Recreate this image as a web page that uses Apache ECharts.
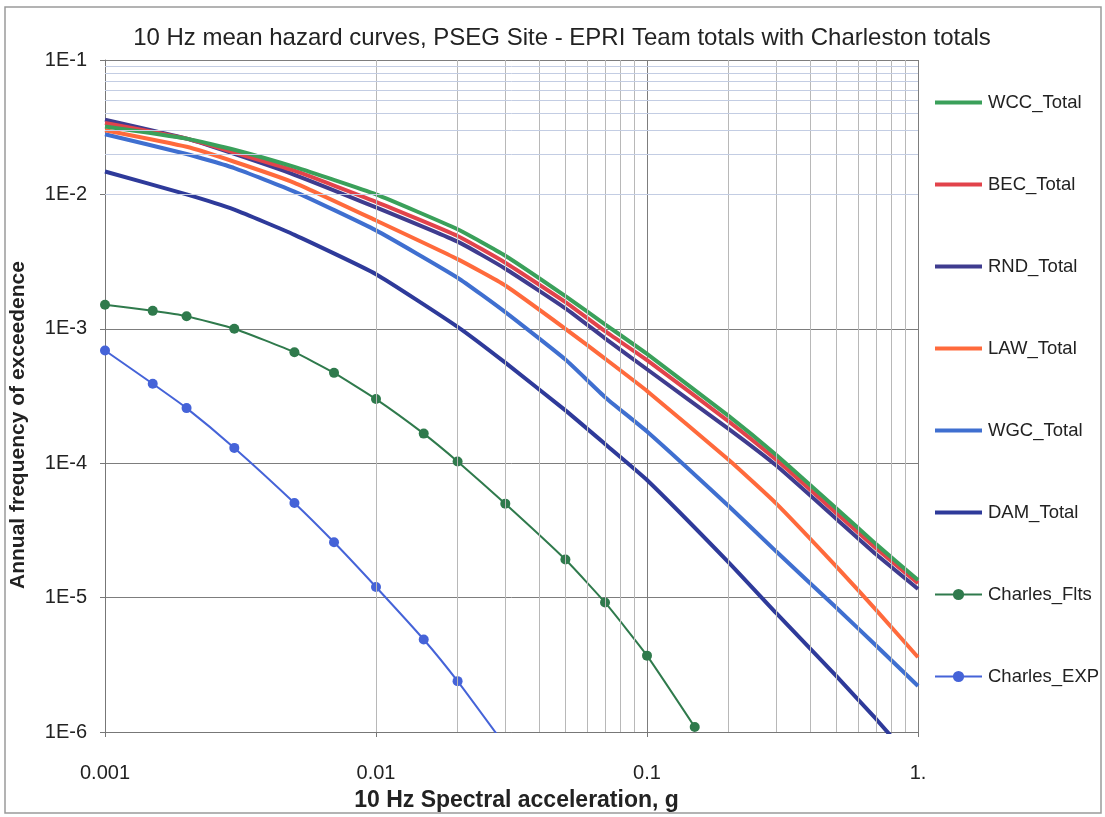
<!DOCTYPE html>
<html>
<head>
<meta charset="utf-8">
<script src="https://cdn.jsdelivr.net/npm/echarts@6/dist/echarts.min.js"></script>
<style>
  html, body { margin: 0; padding: 0; background: #fff; }
  #chart { width: 1105px; height: 817px; }
</style>
</head>
<body>
<div id="chart"></div>
<script>
// spectral acceleration (g) for the total curves
const accel = [0.001, 0.002, 0.003, 0.005, 0.01, 0.02, 0.03, 0.05, 0.07, 0.1, 0.2, 0.3, 0.5, 0.7, 1]
const wccTotal = [3.2e-2, 2.6e-2, 2.15e-2, 1.6e-2, 1.0e-2, 5.5e-3, 3.5e-3, 1.75e-3, 1.08e-3, 6.5e-4, 2.25e-4, 1.15e-4, 4.6e-5, 2.5e-5, 1.35e-5]
const becTotal = [3.4e-2, 2.6e-2, 2.05e-2, 1.5e-2, 8.8e-3, 4.9e-3, 3.1e-3, 1.58e-3, 9.6e-4, 5.85e-4, 2.05e-4, 1.06e-4, 4.25e-5, 2.33e-5, 1.28e-5]
const rndTotal = [3.6e-2, 2.6e-2, 2.0e-2, 1.4e-2, 8.0e-3, 4.45e-3, 2.8e-3, 1.42e-3, 8.5e-4, 5.0e-4, 1.8e-4, 9.6e-5, 3.85e-5, 2.1e-5, 1.16e-5]
const lawTotal = [3.0e-2, 2.26e-2, 1.75e-2, 1.22e-2, 6.4e-3, 3.3e-3, 2.1e-3, 1.0e-3, 6.0e-4, 3.45e-4, 1.06e-4, 5.0e-5, 1.7e-5, 8.1e-6, 3.6e-6]
const wgcTotal = [2.8e-2, 2.0e-2, 1.57e-2, 1.05e-2, 5.4e-3, 2.4e-3, 1.33e-3, 5.9e-4, 3.1e-4, 1.72e-4, 4.8e-5, 2.2e-5, 8.4e-6, 4.4e-6, 2.2e-6]
const damTotal = [1.48e-2, 1.0e-2, 7.7e-3, 5.0e-3, 2.55e-3, 1.035e-3, 5.6e-4, 2.47e-4, 1.39e-4, 7.5e-5, 1.83e-5, 7.65e-6, 2.6e-6, 1.25e-6, 5.5e-7]

// Charleston curves (with markers)
const fltsAccel = [0.001, 0.0015, 0.002, 0.003, 0.005, 0.007, 0.01, 0.015, 0.02, 0.03, 0.05, 0.07, 0.1, 0.15]
const charlesFlts = [1.51e-3, 1.36e-3, 1.24e-3, 1.0e-3, 6.7e-4, 4.7e-4, 3.0e-4, 1.66e-4, 1.03e-4, 5.0e-5, 1.92e-5, 9.2e-6, 3.7e-6, 1.09e-6]
const expAccel = [0.001, 0.0015, 0.002, 0.003, 0.005, 0.007, 0.01, 0.015, 0.02, 0.03]
const charlesExp = [6.9e-4, 3.9e-4, 2.57e-4, 1.3e-4, 5.06e-5, 2.58e-5, 1.2e-5, 4.88e-6, 2.39e-6, 7.9e-7]

const totalNames = ['WCC_Total', 'BEC_Total', 'RND_Total', 'LAW_Total', 'WGC_Total', 'DAM_Total']
const charlesNames = ['Charles_Flts', 'Charles_EXP']
const xTickLabels = { '-3': '0.001', '-2': '0.01', '-1': '0.1', '0': '1.' }
const yTickLabels = { '-6': '1E-6', '-5': '1E-5', '-4': '1E-4', '-3': '1E-3', '-2': '1E-2', '-1': '1E-1' }

// minor log grid: 2..9 inside each decade
const xDecades = [0.001, 0.01, 0.1]
const yDecades = [1e-6, 1e-5, 1e-4, 1e-3, 1e-2]
const minorSteps = [2, 3, 4, 5, 6, 7, 8, 9]

const pairs = (xs, ys) => xs.map((x, i) => [x, ys[i]])

const chart = echarts.init(document.getElementById('chart'))

const font = 'Liberation Sans, Arial, sans-serif'

const totalLine = (name, color, data) => ({
  name,
  type: 'line',
  data,
  symbol: 'none',
  smooth: 0.15,
  clip: true,
  z: 3,
  lineStyle: { color, width: 4 },
  itemStyle: { color }
})

const markerLine = (name, color, data) => ({
  name,
  type: 'line',
  data,
  symbol: 'circle',
  symbolSize: 10,
  smooth: 0.15,
  clip: true,
  z: 4,
  lineStyle: { color, width: 2 },
  itemStyle: { color }
})

const vMinor = []
xDecades.forEach((d) => minorSteps.forEach((k) => vMinor.push({ xAxis: +(k * d).toPrecision(3) })))
const hMinor = []
yDecades.forEach((d) => minorSteps.forEach((k) => hMinor.push({ yAxis: +(k * d).toPrecision(3) })))

const legendData = totalNames
  .map((name) => ({ name, itemStyle: { opacity: 0 }, lineStyle: { width: 4 } }))
  .concat(charlesNames.map((name) => ({ name, lineStyle: { width: 2 } })))

const option = {
  backgroundColor: '#fff',
  animation: false,
  title: {
    text: '10 Hz mean hazard curves, PSEG Site - EPRI Team totals with Charleston totals',
    left: 557,
    textAlign: 'center',
    top: 21,
    textStyle: { fontFamily: font, fontSize: 24, fontWeight: 'normal', color: '#222' }
  },
  graphic: [
    {
      type: 'rect',
      shape: { x: 5, y: 7, width: 1096, height: 806 },
      style: { fill: 'none', stroke: '#9a9a9a', lineWidth: 1.5 },
      silent: true
    }
  ],
  legend: {
    orient: 'vertical',
    left: 933,
    top: 93,
    padding: 0,
    itemWidth: 47,
    itemHeight: 14,
    itemGap: 63,
    data: legendData,
    textStyle: { fontFamily: font, fontSize: 18.5, color: '#222', padding: [0, 0, 0, 1] }
  },
  grid: { left: 104, right: 187, top: 60, bottom: 85 },
  xAxis: {
    type: 'log',
    logBase: 10,
    min: 0.001,
    max: 1,
    name: '10 Hz Spectral acceleration, g',
    nameLocation: 'middle',
    nameGap: 57,
    nameTextStyle: { fontFamily: font, fontSize: 23, fontWeight: 'bold', color: '#222', padding: [0, 0, 0, 10] },
    axisLine: { show: true, lineStyle: { color: '#777', width: 1 } },
    axisTick: { show: true, length: 5, lineStyle: { color: '#777' } },
    axisLabel: {
      margin: 31,
      fontFamily: font,
      fontSize: 20,
      color: '#222',
      formatter: (v) => xTickLabels[String(Math.round(Math.log10(v)))] || ''
    },
    splitLine: { show: true, lineStyle: { color: '#7d7d7d', width: 1 } }
  },
  yAxis: {
    type: 'log',
    logBase: 10,
    min: 1e-6,
    max: 1e-1,
    name: 'Annual frequency of exceedence',
    nameLocation: 'middle',
    nameGap: 76,
    nameTextStyle: { fontFamily: font, fontSize: 21, fontWeight: 'bold', color: '#222', padding: [0, 58, 0, 0] },
    axisLine: { show: true, lineStyle: { color: '#777', width: 1 } },
    axisTick: { show: true, length: 5, lineStyle: { color: '#777' } },
    axisLabel: {
      margin: 18,
      fontFamily: font,
      fontSize: 20,
      color: '#222',
      formatter: (v) => yTickLabels[String(Math.round(Math.log10(v)))] || ''
    },
    splitLine: { show: true, lineStyle: { color: '#7d7d7d', width: 1 } }
  },
  series: [
    {
      type: 'line',
      data: [],
      silent: true,
      z: 1,
      markLine: {
        silent: true,
        symbol: ['none', 'none'],
        label: { show: false },
        animation: false,
        lineStyle: { type: 'solid', width: 1, color: '#b8b8b8' },
        data: vMinor
      }
    },
    {
      type: 'line',
      data: [],
      silent: true,
      z: 1,
      markLine: {
        silent: true,
        symbol: ['none', 'none'],
        label: { show: false },
        animation: false,
        lineStyle: { type: 'solid', width: 1, color: '#c3cde3' },
        data: hMinor
      }
    },
    totalLine('DAM_Total', '#2e3a9a', pairs(accel, damTotal)),
    totalLine('WGC_Total', '#3f6fd0', pairs(accel, wgcTotal)),
    totalLine('LAW_Total', '#ff6a3c', pairs(accel, lawTotal)),
    totalLine('RND_Total', '#3f3c8f', pairs(accel, rndTotal)),
    totalLine('BEC_Total', '#e2434b', pairs(accel, becTotal)),
    totalLine('WCC_Total', '#3aa05a', pairs(accel, wccTotal)),
    markerLine('Charles_Flts', '#2f7a4c', pairs(fltsAccel, charlesFlts)),
    markerLine('Charles_EXP', '#4563d8', pairs(expAccel, charlesExp))
  ]
}

chart.setOption(option)
</script>
</body>
</html>
